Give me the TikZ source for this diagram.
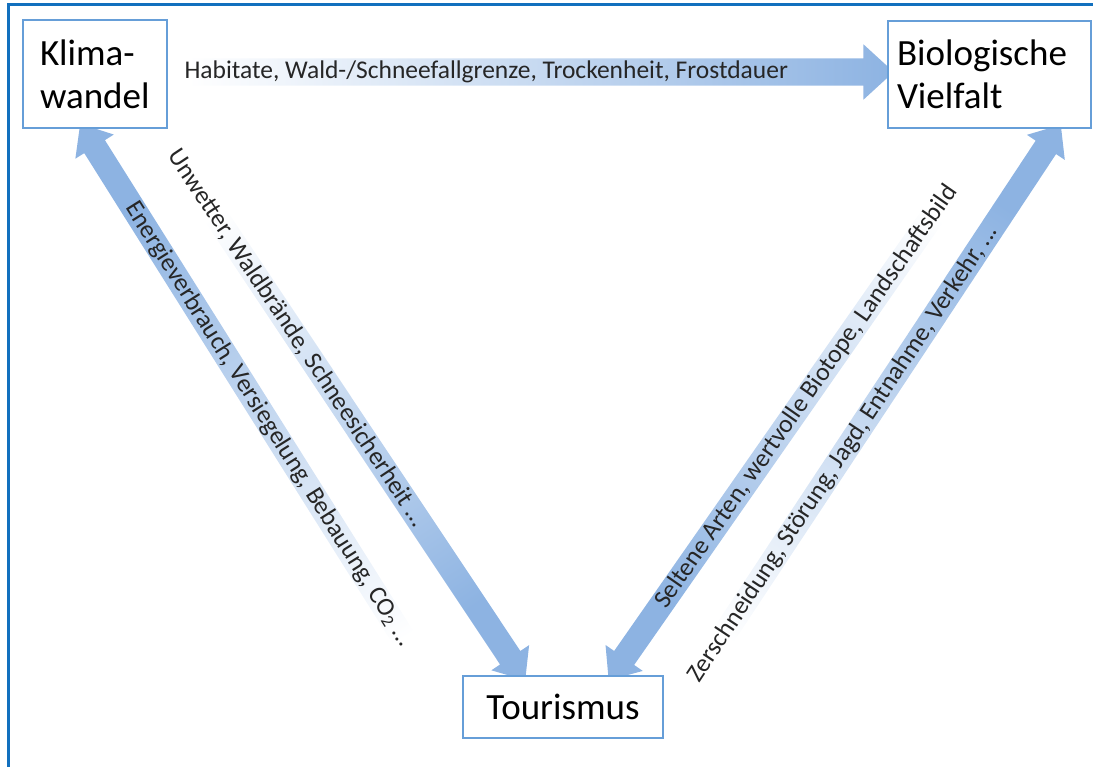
\documentclass[tikz,border=0pt]{standalone}
\usepackage{fontspec}
\setmainfont{Carlito}
\usetikzlibrary{shapes.arrows, calc, backgrounds}

\definecolor{frameblue}{RGB}{18,112,190}
\definecolor{boxline}{RGB}{102,158,216}
\definecolor{arrowblue}{RGB}{141,179,226}

\begin{document}
\begin{tikzpicture}[
    x=1pt, y=-1pt,
    box/.style={
        rectangle,
        draw=boxline,
        fill=white,
        line width=1.6pt,
        align=left,
        font=\fontsize{37}{43}\selectfont,
        inner sep=0pt
    },
    fatarrow/.style={
        single arrow,
        draw=none,
        shading=axis,
        left color=white,
        right color=arrowblue,
        inner xsep=0pt,
        inner ysep=12pt,
        single arrow head extend=10.5pt,
        single arrow tip angle=80
    },
    lbl/.style={
        font=\fontsize{25.5}{30}\selectfont,
        text=black!85,
        inner sep=0pt
    }
]
\useasboundingbox (0,0) rectangle (1093,767);

% Rahmen
\draw[frameblue, line width=3pt] (8.5,767) -- (8.5,5) -- (1093,5);

% Knoten
\node[box, minimum width=144pt, minimum height=108pt, text width=110pt] (klima) at (95,74) {Klima-\\wandel};
\node[box, minimum width=203pt, minimum height=107pt, text width=185pt] (bio) at (989.5,74.5) {Biologische\\Vielfalt};
\node[box, minimum width=200pt, minimum height=62pt, align=center] (tour) at (563,707) {Tourismus};

% Endpunkte der Pfeile
\coordinate (ktail) at ($(klima.east)+(13,-2)$);
\coordinate (btip) at ($(bio.west)+(-1,-2.5)$);
\coordinate (etail) at ($(tour.south west)+(-8,-20)$);
\coordinate (etip) at ($(klima.south)+(-11,1)$);
\coordinate (utail) at ($(klima.south east)+(-2,12)$);
\coordinate (utip) at ($(tour.north west)+(59,-1)$);
\coordinate (stail) at ($(bio.south)+(-4.5,12)$);
\coordinate (stip) at ($(tour.north east)+(-51,-1)$);
\coordinate (ztail) at ($(tour.east)+(5,11)$);
\coordinate (ztip) at ($(bio.south east)+(-35,2)$);

% Pfeile
\begin{scope}[on background layer]
\path let \p1=($(btip)-(ktail)$), \n1={atan2(\y1,\x1)}, \n2={veclen(\x1,\y1)}, \n3={\n1+90} in
    node[fatarrow, inner ysep=13.5pt, single arrow head extend=14pt, single arrow tip angle=85,
         rotate=\n1, shading angle=\n3, minimum height=\n2] (kb) at ($(ktail)!0.5!(btip)$) {};
\path let \p1=($(etip)-(etail)$), \n1={atan2(\y1,\x1)}, \n2={veclen(\x1,\y1)}, \n3={\n1+90} in
    node[fatarrow, rotate=\n1, shading angle=\n3, minimum height=\n2] (tk) at ($(etail)!0.5!(etip)$) {};
\path let \p1=($(utip)-(utail)$), \n1={atan2(\y1,\x1)}, \n2={veclen(\x1,\y1)}, \n3={\n1+90} in
    node[fatarrow, rotate=\n1, shading angle=\n3, minimum height=\n2] (kt) at ($(utail)!0.5!(utip)$) {};
\path let \p1=($(stip)-(stail)$), \n1={atan2(\y1,\x1)}, \n2={veclen(\x1,\y1)}, \n3={\n1+90} in
    node[fatarrow, rotate=\n1, shading angle=\n3, minimum height=\n2] (bt) at ($(stail)!0.5!(stip)$) {};
\path let \p1=($(ztip)-(ztail)$), \n1={atan2(\y1,\x1)}, \n2={veclen(\x1,\y1)}, \n3={\n1+90} in
    node[fatarrow, rotate=\n1, shading angle=\n3, minimum height=\n2] (tb) at ($(ztail)!0.5!(ztip)$) {};
\end{scope}

% Beschriftungen
\path (ktail) -- (btip) node[lbl, pos=0.433] {Habitate, Wald-/Schneefallgrenze, Trockenheit, Frostdauer};
\path (etip) -- (etail) node[lbl, pos=0.5, sloped] {Energieverbrauch, Versiegelung, Bebauung, CO\textsubscript{2} ...};
\path (utail) -- (utip) node[lbl, pos=0.37, sloped] {Unwetter, Waldbrände, Schneesicherheit ...};
\path (stail) -- (stip) node[lbl, pos=0.48, sloped] {Seltene Arten, wertvolle Biotope, Landschaftsbild};
\path (ztail) -- (ztip) node[lbl, pos=0.45, sloped] {Zerschneidung, Störung, Jagd, Entnahme, Verkehr, ...};

\end{tikzpicture}
\end{document}
